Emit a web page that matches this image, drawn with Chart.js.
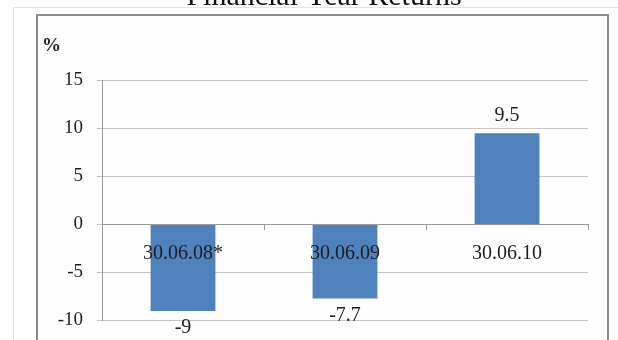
<!DOCTYPE html>
<html>
<head>
<meta charset="utf-8">
<title>Financial Year Returns</title>
<script src="https://cdn.jsdelivr.net/npm/chart.js@4/dist/chart.umd.min.js"></script>
<style>
  html, body { margin: 0; padding: 0; background: #ffffff; }
  #stage { position: relative; width: 618px; height: 340px; overflow: hidden; background: #ffffff; }
  #outer { position: absolute; left: 13px; top: 7px; width: 640px; height: 400px; border-left: 1px solid #e4e4e4; border-top: 1px solid #e4e4e4; }
  #frame { position: absolute; left: 36px; top: 14px; width: 569px; height: 400px; border: 2px solid #8e8e8e; background: #fdfdfe; }
  #chart { position: absolute; left: 0; top: 0; }
</style>
</head>
<body>
<div id="stage">
  <div id="outer"></div>
  <div id="frame"></div>
  <canvas id="chart" width="618" height="340"></canvas>
</div>
<script>
// Financial year end dates and the return for each year, in percent
const categories = ['30.06.08*', '30.06.09', '30.06.10'];
const returnsPct = [-9, -7.7, 9.5];
const yTicks = [-10, -5, 0, 5, 10, 15];

const chartTitle = 'Financial Year Returns';
const unitLabel = '%';

const serif = '"Liberation Serif", "Times New Roman", serif';
const textColor = '#1e1e1e';

// Title, unit marker and value labels drawn on top of the bars
const textOverlay = {
  id: 'textOverlay',
  afterDatasetsDraw(chart) {
    const ctx = chart.ctx;
    ctx.save();
    ctx.fillStyle = '#111111';
    ctx.font = '30px ' + serif;
    ctx.textAlign = 'center';
    ctx.textBaseline = 'alphabetic';
    ctx.fillText(chartTitle, 324, 5);

    ctx.fillStyle = textColor;
    ctx.font = 'bold 19px ' + serif;
    ctx.textAlign = 'left';
    ctx.textBaseline = 'middle';
    ctx.fillText(unitLabel, 42, 46);

    ctx.font = '20px ' + serif;
    ctx.textAlign = 'center';
    const meta = chart.getDatasetMeta(0);
    meta.data.forEach((bar, i) => {
      const v = returnsPct[i];
      const y = v >= 0 ? bar.y - 18 : bar.y + 17;
      ctx.fillText(String(v), bar.x, y);
    });
    ctx.restore();
  }
};

new Chart(document.getElementById('chart'), {
  type: 'bar',
  data: {
    labels: categories,
    datasets: [{
      data: returnsPct,
      backgroundColor: '#4f81bd',
      borderWidth: 0,
      categoryPercentage: 1,
      barPercentage: 0.4
    }]
  },
  options: {
    responsive: false,
    animation: false,
    devicePixelRatio: 1,
    layout: { padding: { left: 42, right: 30, top: 80.5, bottom: 19.5 } },
    plugins: {
      legend: { display: false },
      tooltip: { enabled: false },
      title: { display: false }
    },
    scales: {
      x: {
        position: { y: 0 },
        afterFit(scale) {
          scale.paddingTop = 0;
          scale.paddingBottom = 0;
          scale.paddingLeft = 0;
          scale.paddingRight = 0;
        },
        grid: {
          offset: true,
          drawOnChartArea: false,
          drawTicks: true,
          tickLength: 5,
          color: '#9a9a9a'
        },
        border: { color: '#9a9a9a' },
        ticks: {
          z: 1,
          color: textColor,
          font: { family: serif, size: 20 },
          padding: 12,
          maxRotation: 0,
          autoSkip: false
        }
      },
      y: {
        min: yTicks[0],
        max: yTicks[yTicks.length - 1],
        afterBuildTicks(scale) {
          scale.ticks = yTicks.map(v => ({ value: v }));
        },
        afterFit(scale) {
          scale.width = 60;
          scale.paddingTop = 0;
          scale.paddingBottom = 0;
        },
        grid: {
          color: '#c4c4c4',
          tickLength: 5
        },
        border: { color: '#9a9a9a' },
        ticks: {
          color: textColor,
          font: { family: serif, size: 19 },
          padding: 14
        }
      }
    }
  },
  plugins: [textOverlay]
});
</script>
</body>
</html>
